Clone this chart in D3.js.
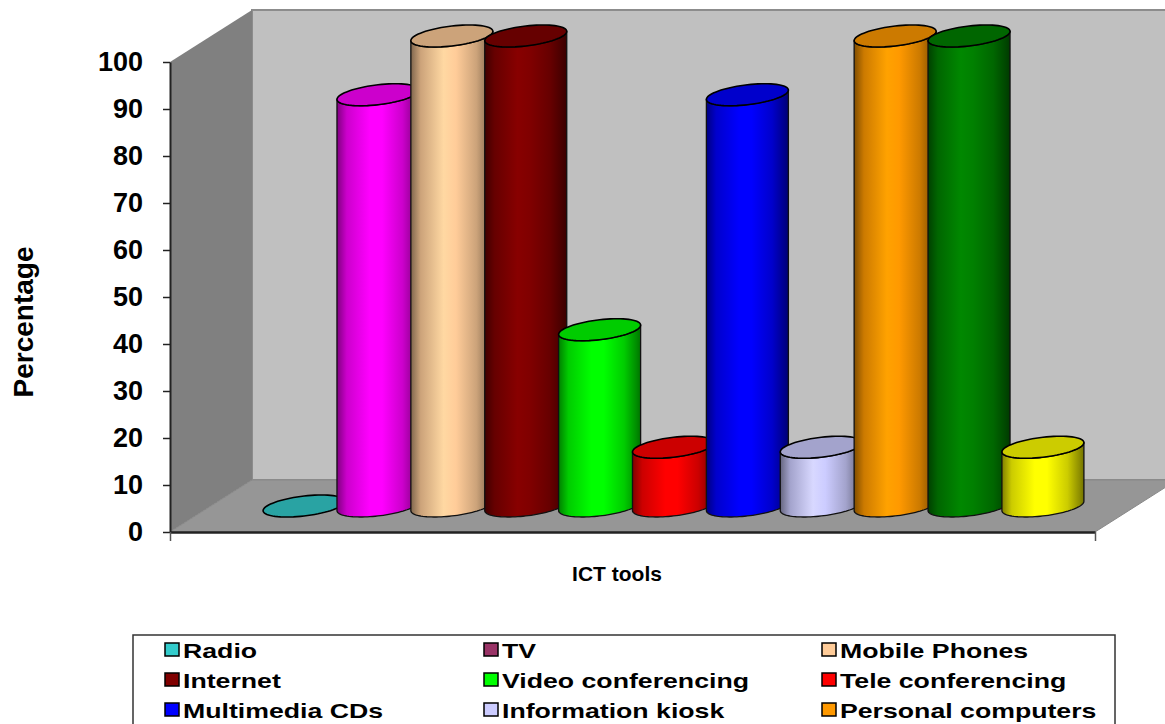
<!DOCTYPE html>
<html>
<head>
<meta charset="utf-8">
<script src="https://cdn.jsdelivr.net/npm/d3@7/dist/d3.min.js"></script>
<style>
  html, body { margin: 0; padding: 0; background: #fff; }
  svg { display: block; font-family: "Liberation Sans", Arial, sans-serif; font-weight: bold; }
</style>
</head>
<body>
<div id="chart"></div>
<script>
// ICT tools — 3D cylinder columns (Excel style)

const categories = ["Radio", "TV", "Mobile Phones", "Internet", "Video conferencing",
  "Tele conferencing", "Multimedia CDs", "Information kiosk", "Personal computers",
  "Laptops", "Fax"];
const values = [0, 87.5, 100, 100, 37.5, 12.5, 87.5, 12.5, 100, 100, 12.5];
const barColors = ["#33CCCC", "#FF00FF", "#FFCC99", "#800000", "#00FF00", "#FF0000",
  "#0000FF", "#CCCCFF", "#FF9900", "#008000", "#FFFF00"];
const legendColors = ["#33CCCC", "#993366", "#FFCC99", "#800000", "#00FF00", "#FF0000",
  "#0000FF", "#CCCCFF", "#FF9900", "#008000", "#FFFF00"];
const yTicks = [0, 10, 20, 30, 40, 50, 60, 70, 80, 90, 100];

const W = 1165, H = 724;
const pLeft = 170, pRight = 1095, pTop = 62, pBottom = 532;
const dx = 82, dy = -52; // depth offset of the 3D box

const svg = d3.select("#chart").append("svg")
  .attr("width", W).attr("height", H)
  .attr("viewBox", `0 0 ${W} ${H}`);

const y = d3.scaleLinear().domain([0, 100]).range([pBottom, pTop]);
const x = d3.scaleBand().domain(categories)
  .range([pLeft + dx / 2, pRight + dx / 2])
  .paddingInner(0).paddingOuter(0.76);

// walls & floor
svg.append("polygon") // back wall
  .attr("points", [[pLeft + dx, pTop + dy], [W + 20, pTop + dy], [W + 20, pBottom + dy], [pLeft + dx, pBottom + dy]].join(" "))
  .attr("fill", "#c0c0c0").attr("stroke", "#8c8c8c").attr("stroke-width", 2);
svg.append("polygon") // side wall
  .attr("points", [[pLeft, pTop], [pLeft + dx, pTop + dy], [pLeft + dx, pBottom + dy], [pLeft, pBottom]].join(" "))
  .attr("fill", "#808080");
svg.append("polygon") // floor
  .attr("points", [[pLeft, pBottom], [pLeft + dx, pBottom + dy], [pRight + dx, pBottom + dy], [pRight, pBottom]].join(" "))
  .attr("fill", "#969696").attr("stroke", "#888").attr("stroke-width", 1);

// axes
const yAxis = svg.append("g")
  .attr("transform", `translate(${pLeft},0)`)
  .call(d3.axisLeft(y).tickValues(yTicks).tickSizeInner(7).tickSizeOuter(0).tickPadding(20));
yAxis.select(".domain").attr("stroke", "#222").attr("stroke-width", 2);
yAxis.selectAll(".tick line").attr("stroke", "#222").attr("stroke-width", 1.5);
yAxis.selectAll(".tick text")
  .attr("fill", "#000").attr("font-size", 27).attr("font-weight", "bold")
  .attr("font-family", "'Liberation Sans', Arial, sans-serif");

const xFront = d3.scaleLinear().domain([0, 1]).range([pLeft, pRight]);
const xAxis = svg.append("g")
  .attr("transform", `translate(0,${pBottom})`)
  .call(d3.axisBottom(xFront).tickValues([0, 1]).tickFormat("").tickSizeInner(9).tickSizeOuter(0));
xAxis.select(".domain").attr("stroke", "#222").attr("stroke-width", 2.5);
xAxis.selectAll(".tick line").attr("stroke", "#555").attr("stroke-width", 1.5);

// cylinders
const R = x.bandwidth() * 0.555;       // horizontal half extent
const b = 11;                           // vertical semi-axis of ellipse
const a = b * dx / -dy;                 // shear along depth direction
const r = Math.sqrt(R * R - a * a);
const th0 = Math.atan2(a, r);

function ell(cx, cy, t) {
  return [cx + r * Math.cos(t) + a * Math.sin(t), cy - b * Math.sin(t)];
}
function arc(cx, cy, t1, t2, n = 48) {
  return d3.range(n + 1).map(i => ell(cx, cy, t1 + (t2 - t1) * i / n));
}
const line = d3.line();

function shade(c, f) {
  const k = d3.rgb(c);
  return d3.rgb(Math.min(255, k.r * f), Math.min(255, k.g * f), Math.min(255, k.b * f)).formatHex();
}

const defs = svg.append("defs");
const stops = [[0, 0.5], [0.12, 0.8], [0.4, 1.06], [0.55, 1.0], [0.8, 0.8], [0.95, 0.55], [1, 0.45]];
categories.forEach((c, i) => {
  const g = defs.append("linearGradient").attr("id", "g" + i)
    .attr("x1", 0).attr("x2", 1).attr("y1", 0).attr("y2", 0);
  stops.forEach(([o, f]) => g.append("stop").attr("offset", o).attr("stop-color", shade(barColors[i], f)));
});

const bars = svg.append("g").selectAll("g")
  .data(categories.map((c, i) => ({ c, v: values[i], i })))
  .join("g");

bars.each(function (d) {
  const g = d3.select(this);
  const cx = x(d.c) + x.bandwidth() / 2;
  const yb = pBottom + dy / 2;
  const yt = y(d.v) + dy / 2;
  if (d.v > 0) {
    const pts = [].concat(
      [ell(cx, yt, th0 + Math.PI)],
      arc(cx, yb, th0 + Math.PI, th0 + 2 * Math.PI),
      arc(cx, yt, th0 + 2 * Math.PI, th0 + Math.PI)
    );
    g.append("path")
      .attr("d", line(pts) + "Z")
      .attr("fill", `url(#g${d.i})`)
      .attr("stroke", "#111").attr("stroke-width", 1.3).attr("stroke-linejoin", "round");
  }
  g.append("path")
    .attr("d", line(arc(cx, yt, 0, 2 * Math.PI, 72)) + "Z")
    .attr("fill", shade(barColors[d.i], 0.8))
    .attr("stroke", "#000").attr("stroke-width", 1.6);
});

// axis titles
svg.append("text")
  .attr("transform", "translate(33,322) rotate(-90)")
  .attr("text-anchor", "middle")
  .attr("font-size", 28)
  .text("Percentage");

svg.append("text")
  .attr("x", 617).attr("y", 581)
  .attr("text-anchor", "middle")
  .attr("font-size", 21)
  .text("ICT tools");

// legend (the box runs past the bottom edge, as in the original; only rows that fit are drawn)
const legend = svg.append("g");
legend.append("rect")
  .attr("x", 133).attr("y", 635).attr("width", 982).attr("height", 130)
  .attr("fill", "#fff").attr("stroke", "#333").attr("stroke-width", 1.5);

const colX = [165, 484, 822];
const rowY = i => 650 + 30 * Math.floor(i / 3);
const items = legend.selectAll("g.item")
  .data(categories.map((c, i) => ({ c, i })).filter(d => rowY(d.i) < H - 8))
  .join("g")
  .attr("class", "item")
  .attr("transform", d => `translate(${colX[d.i % 3]},${rowY(d.i)})`);

items.append("rect")
  .attr("x", 0).attr("y", -7).attr("width", 14).attr("height", 13)
  .attr("fill", d => legendColors[d.i])
  .attr("stroke", "#000").attr("stroke-width", 1.5);

items.append("text")
  .attr("transform", "translate(18,8) scale(1.27,1)")
  .attr("font-size", 21)
  .text(d => d.c);
</script>
</body>
</html>
